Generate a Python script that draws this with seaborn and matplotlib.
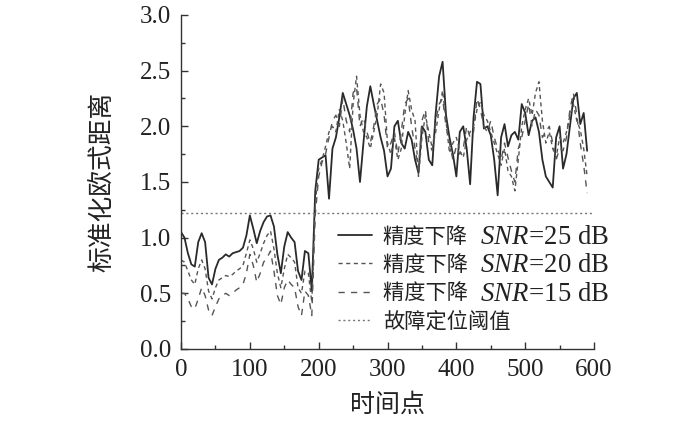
import numpy as np
import pandas as pd
import matplotlib
matplotlib.use("Agg")
import matplotlib.pyplot as plt
import matplotlib.transforms as mtransforms
import seaborn as sns

# ---------------- data ----------------
time_points = list(range(0, 595, 5))

snr25 = [1.05, 1.00, 0.86, 0.76, 0.74, 0.96, 1.04, 0.96, 0.64, 0.58,
         0.72, 0.80, 0.82, 0.85, 0.83, 0.86, 0.87, 0.88, 0.91, 1.02,
         1.20, 1.08, 0.95, 1.06, 1.14, 1.19, 1.20, 1.10, 0.85, 0.68,
         0.92, 1.05, 1.00, 0.96, 0.70, 0.62, 0.88, 0.86, 0.52, 1.42,
         1.70, 1.72, 1.74, 1.35, 1.80, 1.90, 2.08, 2.30, 2.20, 2.10,
         1.97, 1.80, 1.50, 1.85, 2.18, 2.36, 2.20, 2.05, 1.90, 1.78,
         1.55, 1.62, 2.00, 2.05, 1.85, 1.80, 1.95, 1.88, 1.70, 1.58,
         2.00, 1.95, 1.70, 1.65, 2.12, 2.45, 2.58, 2.10, 1.90, 1.75,
         1.55, 1.95, 2.00, 1.80, 1.48, 2.08, 2.40, 2.38, 1.98, 2.00,
         1.92, 1.70, 1.38, 1.90, 2.02, 1.82, 1.92, 1.95, 1.88, 2.20,
         2.12, 1.92, 2.05, 2.08, 1.95, 1.70, 1.55, 1.50, 1.45, 1.90,
         2.00, 1.62, 1.75, 2.00, 2.25, 2.30, 2.02, 2.12, 1.78]

snr20 = [0.80, 0.78, 0.70, 0.62, 0.58, 0.72, 0.80, 0.72, 0.52, 0.45,
         0.55, 0.62, 0.64, 0.66, 0.65, 0.67, 0.70, 0.72, 0.75, 0.86,
         0.98, 0.90, 0.78, 0.86, 0.95, 1.02, 1.06, 0.90, 0.68, 0.55,
         0.72, 0.85, 0.82, 0.78, 0.55, 0.50, 0.70, 0.68, 0.42, 1.30,
         1.62, 1.70, 1.82, 1.95, 2.00, 1.95, 2.15, 2.05, 1.85, 1.62,
         2.20, 2.45, 2.10, 1.95, 1.90, 1.80, 1.95, 2.10, 2.38, 2.30,
         1.85, 1.75, 1.90, 1.70, 1.80, 2.10, 2.32, 2.15, 2.05, 1.55,
         1.90, 2.10, 1.95, 1.80, 1.95, 2.15, 2.32, 2.05, 1.76, 1.85,
         1.90, 1.78, 1.72, 1.88, 1.95, 2.00, 2.15, 2.22, 2.10, 2.05,
         1.95, 1.85, 1.75, 1.65, 1.80, 1.60, 1.55, 1.42, 1.70, 2.00,
         2.15, 2.25, 2.10, 2.30, 2.40, 2.05, 1.85, 1.95, 1.80, 1.72,
         1.90, 1.85, 1.95, 2.10, 2.20, 2.05, 1.97, 1.80, 1.55]

snr15 = [0.50, 0.50, 0.45, 0.38, 0.36, 0.45, 0.55, 0.48, 0.35, 0.30,
         0.38, 0.45, 0.48, 0.50, 0.48, 0.50, 0.53, 0.55, 0.58, 0.68,
         0.85, 0.75, 0.60, 0.68, 0.78, 0.82, 0.88, 0.70, 0.48, 0.40,
         0.55, 0.62, 0.58, 0.55, 0.38, 0.30, 0.52, 0.48, 0.30, 1.20,
         1.55, 1.68, 1.75, 1.90, 2.05, 2.10, 2.00, 2.25, 2.05, 1.95,
         2.30, 2.35, 2.00, 2.08, 1.95, 1.85, 2.00, 2.20, 2.25, 2.10,
         1.80, 1.85, 1.95, 1.75, 1.95, 2.20, 2.25, 2.00, 1.80, 1.62,
         2.05, 2.15, 1.85, 1.78, 2.05, 2.20, 2.25, 2.00, 1.85, 1.70,
         1.82, 1.75, 1.80, 2.00, 1.90, 1.95, 2.25, 2.15, 2.00, 1.95,
         2.05, 1.90, 1.80, 1.70, 1.85, 1.72, 1.60, 1.50, 1.80, 1.90,
         2.05, 2.20, 2.00, 2.15, 2.10, 1.90, 1.95, 2.00, 1.85, 1.70,
         1.80, 1.78, 1.90, 2.15, 2.30, 2.10, 1.85, 1.65, 1.40]

threshold = 1.22
snr_levels = ["25", "20", "15"]
series_prefix = "精度下降"
threshold_label = "故障定位阈值"
x_label = "时间点"
y_label = "标准化欧式距离"

snr_suffixes = ["$\\mathit{SNR}\\!=\\!\\mathrm{" + s + "\\ dB}$" for s in snr_levels]

# ---------------- style ----------------
sns.set_theme(style="ticks")
plt.rcParams['font.family'] = ['Liberation Serif', 'Noto Sans CJK SC', 'DejaVu Sans']
plt.rcParams['mathtext.fontset'] = 'custom'
plt.rcParams['mathtext.rm'] = 'Liberation Serif'
plt.rcParams['mathtext.it'] = 'Liberation Serif:italic'
plt.rcParams['axes.unicode_minus'] = False

fig = plt.figure(figsize=(7.0, 4.37), dpi=100)
ax = fig.add_axes([0.2586, 0.2014, 0.59, 0.7643])

df = pd.DataFrame({"t": time_points, "s25": snr25, "s20": snr20, "s15": snr15})

sns.lineplot(data=df, x="t", y="s25", ax=ax, color="#2a2a2a", lw=1.3,
             label=series_prefix)
sns.lineplot(data=df, x="t", y="s20", ax=ax, color="#555555", lw=1.0,
             label=series_prefix + " ")
sns.lineplot(data=df, x="t", y="s15", ax=ax, color="#555555", lw=1.0,
             label=series_prefix + "  ")
lines = ax.get_lines()
lines[1].set_dashes([3.0, 2.5])
lines[2].set_dashes([4.5, 4.5])
ax.axhline(threshold, color="#777777", lw=1.0, ls=(0, (1.5, 2.0)),
           label=threshold_label)

ax.set_xlim(0, 600)
ax.set_ylim(0, 3.0)
ax.set_xticks(range(0, 601, 100))
ax.set_xticks(range(50, 600, 100), minor=True)
ax.set_yticks(np.arange(0, 3.01, 0.5))
ax.set_yticks(np.arange(0.25, 3.0, 0.5), minor=True)
ax.set_yticklabels([f"{v:.1f}" for v in np.arange(0, 3.01, 0.5)])
ax.tick_params(axis="both", which="major", direction="in", length=5,
               width=1.0, labelsize=18, color="#333333")
ax.tick_params(axis="x", which="major", pad=7)
ax.tick_params(axis="y", which="major", pad=7)
ax.tick_params(axis="both", which="minor", direction="in", length=3,
               width=1.0, color="#333333")
for lab in ax.get_xticklabels() + ax.get_yticklabels():
    lab.set_color("#222222")
sns.despine(ax=ax)
for sp in ["left", "bottom"]:
    ax.spines[sp].set_color("#333333")
    ax.spines[sp].set_linewidth(1.0)

ax.set_xlabel(x_label, fontsize=18, color="#222222", labelpad=8,
              family=['Noto Sans CJK SC'])
ax.set_ylabel(y_label, fontsize=18.5, color="#222222", labelpad=18,
              family=['Noto Sans CJK SC'])

leg = ax.legend(loc="upper left", bbox_to_anchor=(0.36, 0.395), frameon=False,
                handlelength=1.6, handletextpad=0.5,
                labelspacing=0.3, borderaxespad=0,
                prop={'family': ['Noto Sans CJK SC'], 'size': 15.3})
for t in leg.get_texts():
    t.set_color("#222222")

# SNR part of the legend labels, in Times-like serif at its larger size
fig.canvas.draw()
renderer = fig.canvas.get_renderer()
ident = mtransforms.IdentityTransform()
for t, suffix in zip(leg.get_texts()[:3], snr_suffixes):
    bb = t.get_window_extent(renderer)
    fig.text(bb.x0 + 97, (bb.y0 + bb.y1) / 2 - 1, suffix, transform=ident,
             fontsize=19.3, color="#222222", va="center", ha="left")

fig.savefig("out.png", dpi=100)
